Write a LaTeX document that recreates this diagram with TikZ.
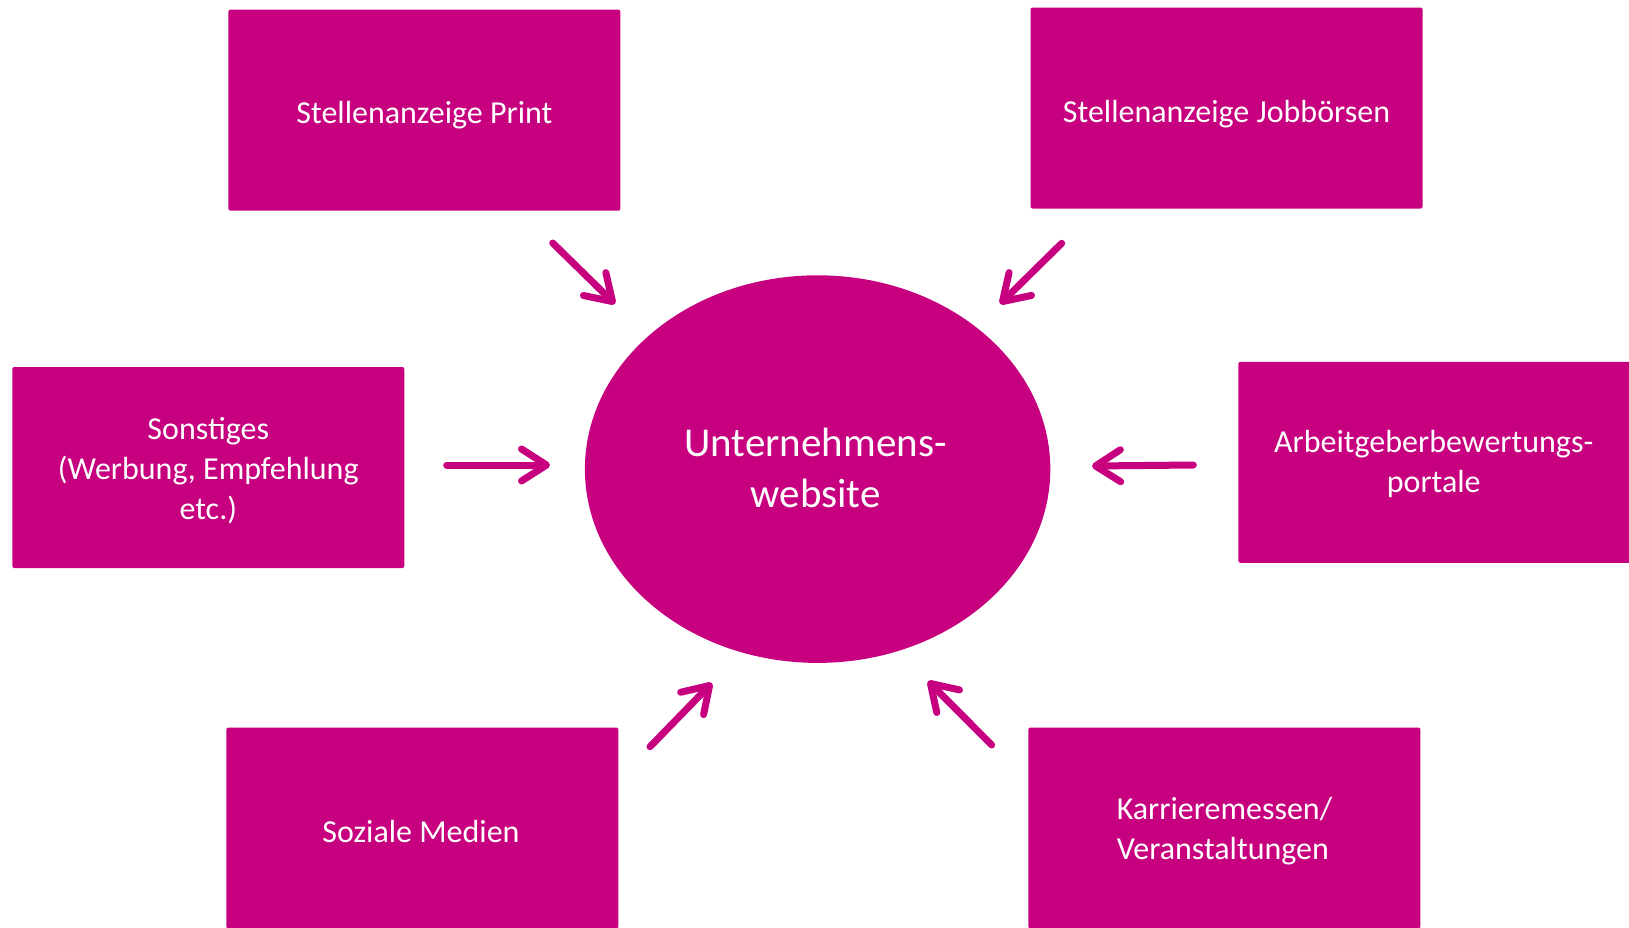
\documentclass[tikz,border=0pt]{standalone}
\usepackage{fontspec}
\setmainfont{Carlito}
\usetikzlibrary{arrows.meta,shapes.geometric}
\definecolor{mag}{HTML}{C6007E}
\tikzset{
  box/.style={rectangle, fill=mag, rounded corners=2pt, minimum width=392pt, minimum height=201pt, inner sep=0pt},
  boxtext/.style={text=white, font=\fontsize{32}{40}\selectfont, align=center, anchor=base, inner sep=0pt},
  flow/.style={draw=mag, line width=7pt, line cap=round, -{Straight Barb[length=25pt,width=32pt,round]}}
}
\begin{document}
\begin{tikzpicture}[x=1pt,y=-1pt]
\useasboundingbox (0,0) rectangle (1629,927);
\node[box] (print) at (424.4,110.2) {};
\node[box] (job) at (1226.5,108) {};
\node[box] (sonst) at (208.3,467.5) {};
\node[box] (arb) at (1434.4,462.3) {};
\node[box] (sozial) at (422.4,828) {};
\node[box] (karr) at (1224.4,828) {};
\node[boxtext] (tprint) at (424.4,123) {Stellenanzeige Print};
\node[boxtext] (tjob) at (1226.5,122.5) {Stellenanzeige Jobbörsen};
\node[boxtext] (tsonst) at (208.3,519.5) {Sonstiges\\(Werbung, Empfehlung\\etc.)};
\node[boxtext] (tarb) at (1433.7,492.5) {Arbeitgeberbewertungs-\\portale};
\node[boxtext] (tsozial) at (421,842.5) {Soziale Medien};
\node[boxtext, align=left] (tkarr) at (1224.4,859) {Karrieremessen/\\Veranstaltungen};
\node[ellipse, fill=mag, minimum width=465.4pt, minimum height=387.6pt, inner sep=0pt] (web) at (817.6,469.1) {};
\node[text=white, font=\fontsize{41}{51}\selectfont, align=center, anchor=base, inner sep=0pt] (tweb) at (815.5,507.5) {Unternehmens-\\website};
\coordinate (a1s) at (552.7,243);
\coordinate (a1e) at (615,304);
\coordinate (a2s) at (1061.7,243.3);
\coordinate (a2e) at (1000,304);
\coordinate (a3s) at (446.7,465);
\coordinate (a3e) at (550,465);
\coordinate (a4s) at (1193.3,465);
\coordinate (a4e) at (1092,466);
\coordinate (a5s) at (650,746.7);
\coordinate (a5e) at (712,683);
\coordinate (a6s) at (991.7,745);
\coordinate (a6e) at (928,681);
\draw[flow] (a1s) -- (a1e);
\draw[flow] (a2s) -- (a2e);
\draw[flow] (a3s) -- (a3e);
\draw[flow] (a4s) -- (a4e);
\draw[flow] (a5s) -- (a5e);
\draw[flow] (a6s) -- (a6e);
\end{tikzpicture}
\end{document}
